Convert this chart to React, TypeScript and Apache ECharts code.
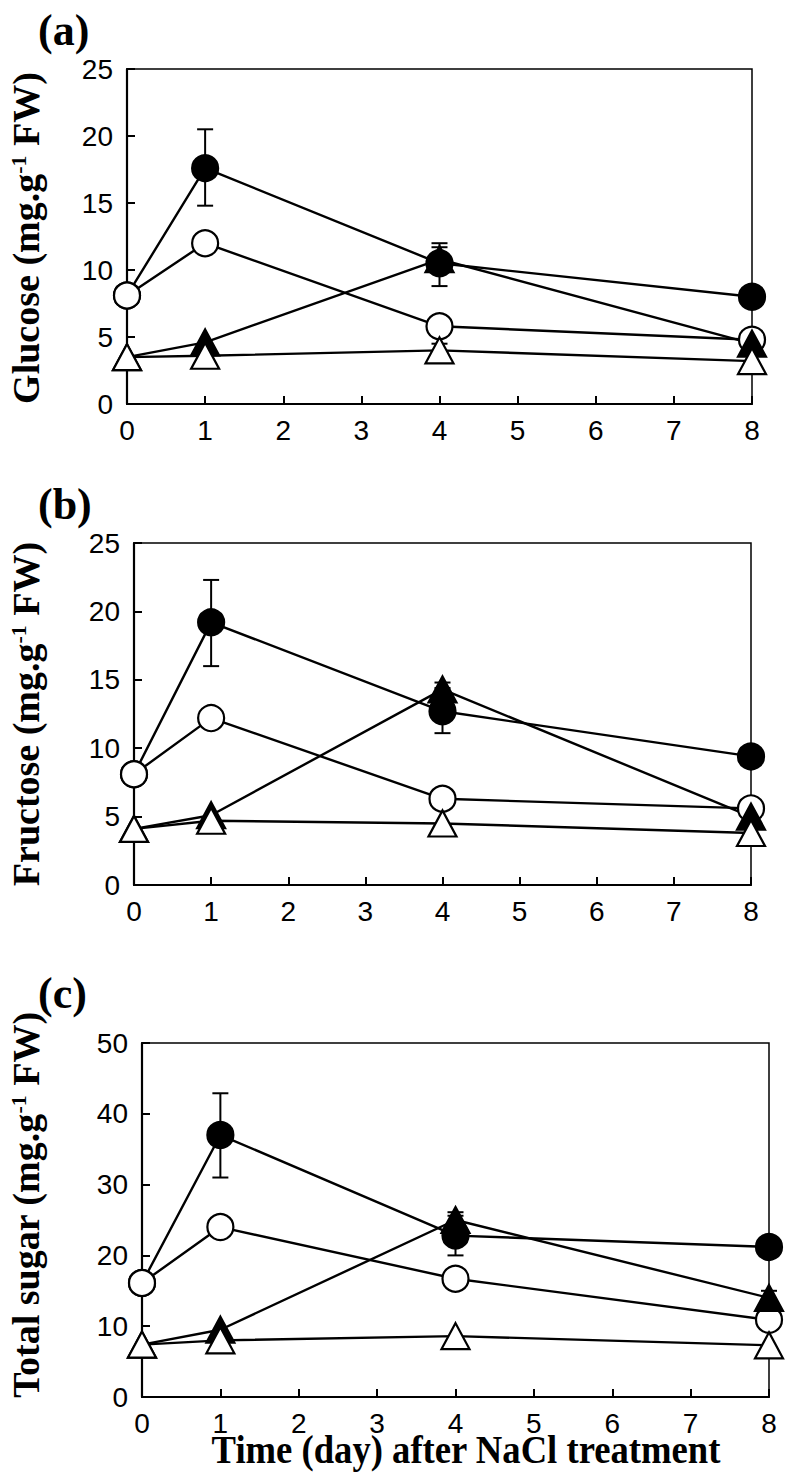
import React, { useEffect, useRef } from "react";
import * as echarts from "echarts";

// ---- data ----
const days = [0, 1, 4, 8];
const xTicks = [0, 1, 2, 3, 4, 5, 6, 7, 8];

// (a) Glucose
const glucoseFilledCircle = [8.1, 17.6, 10.5, 8.0];
const glucoseOpenCircle = [8.1, 12.0, 5.8, 4.8];
const glucoseFilledTriangle = [3.5, 4.6, 10.8, 4.5];
const glucoseOpenTriangle = [3.5, 3.6, 4.0, 3.2];
const glucoseErrors = [
  [1, 14.8, 20.5],
  [4, 8.8, 12.0],
  [4, 10.0, 11.7],
  [4, 3.7, 4.5],
];

// (b) Fructose
const fructoseFilledCircle = [8.1, 19.2, 12.7, 9.4];
const fructoseOpenCircle = [8.1, 12.2, 6.3, 5.6];
const fructoseFilledTriangle = [4.1, 5.1, 14.3, 5.0];
const fructoseOpenTriangle = [4.1, 4.7, 4.5, 3.8];
const fructoseErrors = [
  [1, 16.0, 22.3],
  [4, 11.1, 14.4],
  [4, 13.7, 14.8],
];

// (c) Total sugar
const totalFilledCircle = [16.1, 37.0, 22.8, 21.2];
const totalOpenCircle = [16.1, 24.0, 16.7, 10.9];
const totalFilledTriangle = [7.4, 9.5, 25.0, 14.0];
const totalOpenTriangle = [7.4, 8.0, 8.6, 7.3];
const totalErrors = [
  [1, 31.0, 42.9],
  [4, 20.0, 25.6],
  [4, 24.0, 26.1],
  [8, 13.0, 15.0],
];

const panelLabels = ["(a)", "(b)", "(c)"];
const yTitles = ["Glucose", "Fructose", "Total sugar"];
const yMax = [25, 25, 50];
const yInterval = [5, 5, 10];
const xTitle = "Time (day) after NaCl treatment";

const panels = [
  { fc: glucoseFilledCircle, oc: glucoseOpenCircle, ft: glucoseFilledTriangle, ot: glucoseOpenTriangle, err: glucoseErrors },
  { fc: fructoseFilledCircle, oc: fructoseOpenCircle, ft: fructoseFilledTriangle, ot: fructoseOpenTriangle, err: fructoseErrors },
  { fc: totalFilledCircle, oc: totalOpenCircle, ft: totalFilledTriangle, ot: totalOpenTriangle, err: totalErrors },
];

// ---- layout ----
const grids = [
  { left: 127, top: 69, width: 625, height: 335 },
  { left: 134, top: 543, width: 617, height: 342 },
  { left: 142, top: 1043, width: 627, height: 354 },
];
const labelY = [32, 506, 995];
const titleY = [238, 714, 1205];

const SERIF = '"Liberation Serif", "Times New Roman", serif';
const SANS = '"Liberation Sans", Arial, sans-serif';

export default function App() {
  const ref = useRef<HTMLDivElement>(null);

  useEffect(() => {
    if (!ref.current) return;
    const chart = echarts.init(ref.current, undefined, { renderer: "svg" });

    const xAxes: any[] = [];
    const yAxes: any[] = [];
    const series: any[] = [];
    const graphics: any[] = [];

    grids.forEach((g, i) => {
      xAxes.push({
        type: "value",
        gridIndex: i,
        min: 0,
        max: 8,
        interval: 1,
        axisLine: { show: true, lineStyle: { color: "#000", width: 2.2 } },
        axisTick: { show: true, inside: true, length: 8, lineStyle: { color: "#000", width: 2 } },
        axisLabel: {
          color: "#000",
          fontFamily: SANS,
          fontSize: 28,
          margin: 12,
          customValues: xTicks,
        },
        splitLine: { show: false },
      });
      yAxes.push({
        type: "value",
        gridIndex: i,
        min: 0,
        max: yMax[i],
        interval: yInterval[i],
        axisLine: { show: true, lineStyle: { color: "#000", width: 2.2 } },
        axisTick: { show: true, inside: true, length: 8, lineStyle: { color: "#000", width: 2 } },
        axisLabel: { color: "#000", fontFamily: SANS, fontSize: 28, margin: 14 },
        splitLine: { show: false },
      });

      const p = panels[i];
      const groups = [
        { data: p.fc, symbol: "circle", size: 26, fill: "#000" },
        { data: p.oc, symbol: "circle", size: 26, fill: "#fff" },
        { data: p.ft, symbol: "triangle", size: [28, 26], fill: "#000" },
        { data: p.ot, symbol: "triangle", size: [28, 26], fill: "#fff" },
      ];

      groups.forEach((gr) => {
        series.push({
          type: "line",
          xAxisIndex: i,
          yAxisIndex: i,
          data: days.map((d, k) => [d, gr.data[k]]),
          symbol: "none",
          lineStyle: { color: "#000", width: 2.4 },
          z: 2,
          clip: false,
          silent: true,
        });
      });

      series.push({
        type: "custom",
        xAxisIndex: i,
        yAxisIndex: i,
        data: p.err,
        encode: { x: 0, y: [1, 2] },
        clip: false,
        z: 3,
        silent: true,
        renderItem: (params: any, api: any) => {
          const x = api.value(0);
          const lo = api.value(1);
          const hi = api.value(2);
          const a = api.coord([x, hi]);
          const b = api.coord([x, lo]);
          const w = 8;
          const st = { stroke: "#000", lineWidth: 2 };
          return {
            type: "group",
            children: [
              { type: "line", shape: { x1: a[0], y1: a[1], x2: b[0], y2: b[1] }, style: st },
              { type: "line", shape: { x1: a[0] - w, y1: a[1], x2: a[0] + w, y2: a[1] }, style: st },
              { type: "line", shape: { x1: b[0] - w, y1: b[1], x2: b[0] + w, y2: b[1] }, style: st },
            ],
          };
        },
      });

      groups.forEach((gr, gi) => {
        series.push({
          type: "scatter",
          xAxisIndex: i,
          yAxisIndex: i,
          data: days.map((d, k) => [d, gr.data[k]]),
          symbol: gr.symbol,
          symbolSize: gr.size,
          itemStyle: { color: gr.fill, borderColor: "#000", borderWidth: 2.2, opacity: 1 },
          z: 4 + gi,
          clip: false,
          silent: true,
        });
      });

      graphics.push({
        type: "text",
        left: 38,
        top: labelY[i] - 24,
        style: {
          text: panelLabels[i],
          fontFamily: SERIF,
          fontWeight: "bold",
          fontSize: 44,
          fill: "#000",
        },
      });

      graphics.push({
        type: "text",
        x: 26,
        y: titleY[i],
        rotation: Math.PI / 2,
        style: {
          text: yTitles[i] + " (mg.g{sup|-1} FW)",
          fontFamily: SERIF,
          fontWeight: "bold",
          fontSize: 38,
          fill: "#000",
          align: "center",
          verticalAlign: "middle",
          rich: {
            sup: {
              fontFamily: SERIF,
              fontWeight: "bold",
              fontSize: 22,
              verticalAlign: "top",
              fill: "#000",
            },
          },
        },
      });
    });

    graphics.push({
      type: "text",
      x: 466,
      y: 1450,
      scaleX: 0.94,
      style: {
        text: xTitle,
        fontFamily: SERIF,
        fontWeight: "bold",
        fontSize: 39,
        fill: "#000",
        align: "center",
        verticalAlign: "middle",
      },
    });

    chart.setOption({
      animation: false,
      backgroundColor: "#fff",
      grid: grids.map((g) => ({
        ...g,
        show: true,
        borderColor: "#000",
        borderWidth: 1.5,
        backgroundColor: "transparent",
        containLabel: false,
      })),
      xAxis: xAxes,
      yAxis: yAxes,
      series,
      graphic: graphics,
    });

    return () => chart.dispose();
  }, []);

  return (
    <div
      ref={ref}
      style={{ position: "absolute", left: 0, top: 0, width: 786, height: 1478, background: "#fff" }}
    />
  );
}
